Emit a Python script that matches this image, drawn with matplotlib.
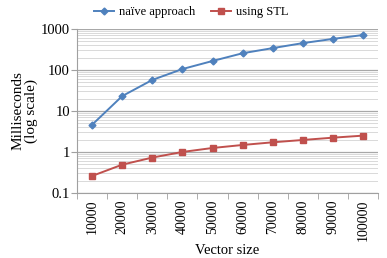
import numpy as np
import matplotlib
matplotlib.use("Agg")
from matplotlib import pyplot as plt
from matplotlib.ticker import LogLocator, FixedLocator, NullFormatter

sizes = ["10000", "20000", "30000", "40000", "50000",
         "60000", "70000", "80000", "90000", "100000"]
naive = [4.6, 23, 57, 105, 165, 255, 340, 450, 570, 710]
stl = [0.26, 0.49, 0.73, 1.0, 1.25, 1.48, 1.72, 1.96, 2.23, 2.5]

plt.rcParams["font.family"] = ["Liberation Serif", "DejaVu Serif"]

fig = plt.figure(figsize=(3.87, 2.58), dpi=100)
ax = fig.add_axes([0.199, 0.252, 0.778, 0.636])

x = np.arange(len(sizes))
ax.plot(x, naive, color="#4F81BD", marker="D", markersize=3.5, lw=1.4,
        label="naïve approach")
ax.plot(x, stl, color="#C0504D", marker="s", markersize=4, lw=1.4,
        label="using STL")

ax.set_yscale("log")
ax.set_ylim(0.1, 1000)
ax.set_xlim(-0.5, len(sizes) - 0.5)
ax.yaxis.set_major_locator(FixedLocator([0.1, 1, 10, 100, 1000]))
ax.set_yticklabels(["0.1", "1", "10", "100", "1000"])
ax.yaxis.set_minor_locator(LogLocator(base=10, subs=np.arange(2, 10)))
ax.yaxis.set_minor_formatter(NullFormatter())

ax.set_xticks(x)
ax.set_xticklabels(sizes, rotation=90)
ax.set_xticks(np.arange(-0.5, len(sizes)), minor=True)
ax.tick_params(axis="x", which="major", length=0, pad=5, labelsize=10)
ax.tick_params(axis="x", which="minor", length=4, color="#a0a0a0")
ax.tick_params(axis="y", which="major", length=4, color="#a0a0a0", labelsize=10.5, pad=1)
ax.tick_params(axis="y", which="minor", length=0)

ax.grid(True, which="major", axis="y", color="#a8a8a8", lw=0.9)
ax.grid(True, which="minor", axis="y", color="#d9d9d9", lw=0.7)
ax.set_axisbelow(True)

for s in ["top", "right"]:
    ax.spines[s].set_visible(False)
for s in ["left", "bottom"]:
    ax.spines[s].set_color("#a0a0a0")

ax.set_ylabel("Milliseconds\n(log scale)", fontsize=11, linespacing=1.0, labelpad=2)
ax.set_xlabel("Vector size", fontsize=10.5, labelpad=2)

fig.legend(*ax.get_legend_handles_labels(), loc="center",
           bbox_to_anchor=(0.494, 0.953), ncol=2, frameon=False,
           fontsize=9, handlelength=1.6, columnspacing=1.2, handletextpad=0.4,
           borderaxespad=0, borderpad=0)

fig.savefig("out.png", dpi=100)
